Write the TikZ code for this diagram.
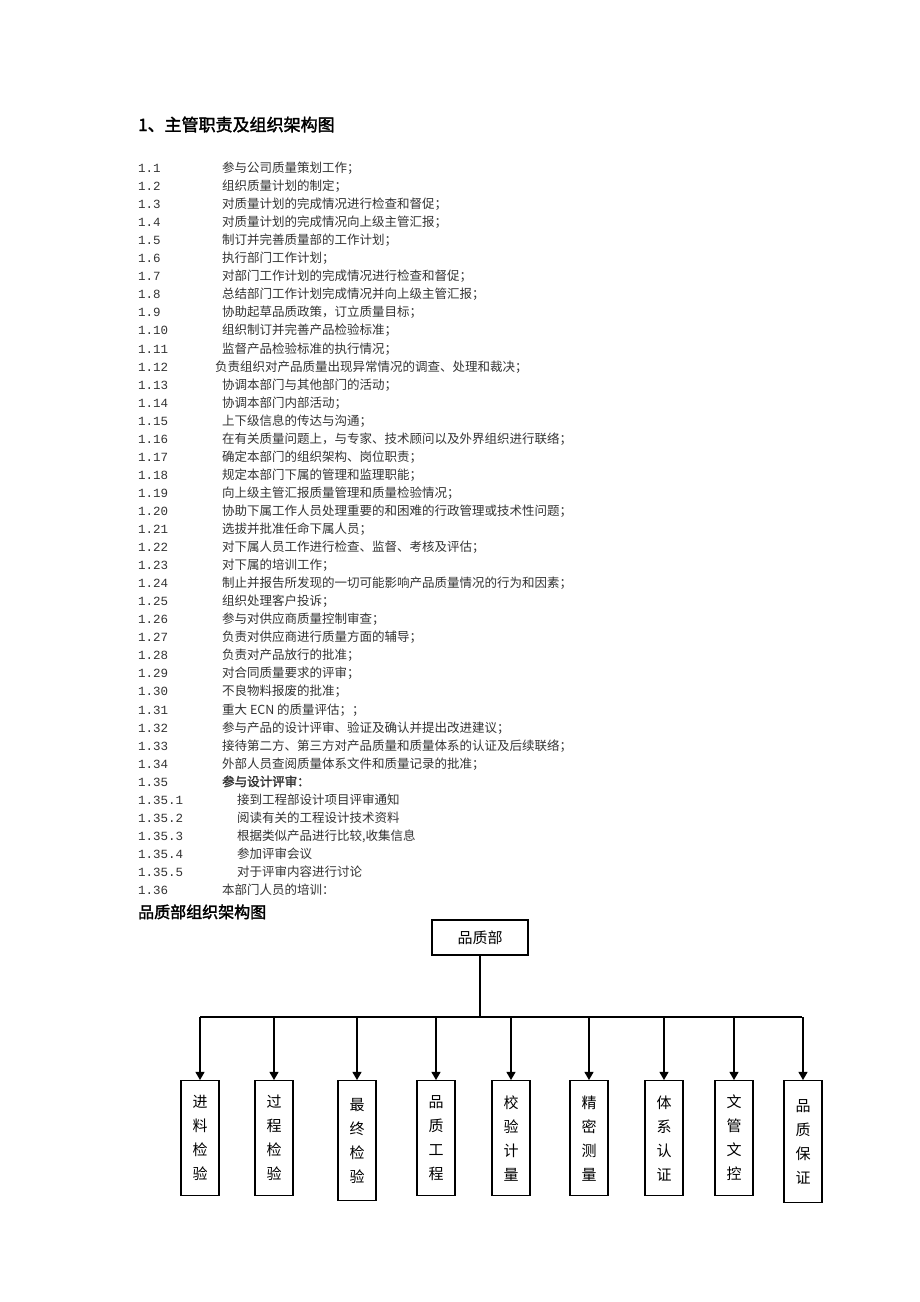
\documentclass[tikz,border=0pt]{standalone}
\usepackage{fontspec}
\setmainfont{Noto Sans CJK SC}[AutoFakeBold=2]
\newfontfamily\numfont{Liberation Mono}
\usetikzlibrary{positioning, arrows}
\tikzstyle{item}=[anchor=base west, inner sep=0pt, font=\fontsize{12.5}{12}\selectfont, text=black!80]
\tikzstyle{unit}=[draw, line width=1.2pt, minimum width=38pt, align=center, inner sep=0pt, font=\fontsize{15}{24}\selectfont]
\tikzset{>=triangle 60}

\begin{document}
\begin{tikzpicture}[x=1pt, y=-1pt]
\useasboundingbox (0,0) rectangle (920,1302);
% the title
\node[anchor=base west, inner sep=0pt, font=\fontsize{17}{17}\selectfont\bfseries] (title) at (138,131) {1、主管职责及组织架构图};
% the duties
\foreach \n/\t/\x [count=\i] in {1.1/{参与公司质量策划工作；}/222, 1.2/{组织质量计划的制定；}/222,
  1.3/{对质量计划的完成情况进行检查和督促；}/222, 1.4/{对质量计划的完成情况向上级主管汇报；}/222,
  1.5/{制订并完善质量部的工作计划；}/222, 1.6/{执行部门工作计划；}/222,
  1.7/{对部门工作计划的完成情况进行检查和督促；}/222, 1.8/{总结部门工作计划完成情况并向上级主管汇报；}/222,
  1.9/{协助起草品质政策，订立质量目标；}/222, 1.10/{组织制订并完善产品检验标准；}/222,
  1.11/{监督产品检验标准的执行情况；}/222, 1.12/{负责组织对产品质量出现异常情况的调查、处理和裁决；}/215,
  1.13/{协调本部门与其他部门的活动；}/222, 1.14/{协调本部门内部活动；}/222,
  1.15/{上下级信息的传达与沟通；}/222, 1.16/{在有关质量问题上，与专家、技术顾问以及外界组织进行联络；}/222,
  1.17/{确定本部门的组织架构、岗位职责；}/222, 1.18/{规定本部门下属的管理和监理职能；}/222,
  1.19/{向上级主管汇报质量管理和质量检验情况；}/222, 1.20/{协助下属工作人员处理重要的和困难的行政管理或技术性问题；}/222,
  1.21/{选拔并批准任命下属人员；}/222, 1.22/{对下属人员工作进行检查、监督、考核及评估；}/222,
  1.23/{对下属的培训工作；}/222, 1.24/{制止并报告所发现的一切可能影响产品质量情况的行为和因素；}/222,
  1.25/{组织处理客户投诉；}/222, 1.26/{参与对供应商质量控制审查；}/222,
  1.27/{负责对供应商进行质量方面的辅导；}/222, 1.28/{负责对产品放行的批准；}/222,
  1.29/{对合同质量要求的评审；}/222, 1.30/{不良物料报废的批准；}/222,
  1.31/{重大 ECN 的质量评估；；}/222, 1.32/{参与产品的设计评审、验证及确认并提出改进建议；}/222,
  1.33/{接待第二方、第三方对产品质量和质量体系的认证及后续联络；}/222, 1.34/{外部人员查阅质量体系文件和质量记录的批准；}/222,
  1.35/{\bfseries 参与设计评审：}/222, 1.35.1/{接到工程部设计项目评审通知}/237,
  1.35.2/{阅读有关的工程设计技术资料}/237, 1.35.3/{根据类似产品进行比较,收集信息}/237,
  1.35.4/{参加评审会议}/237, 1.35.5/{对于评审内容进行讨论}/237, 1.36/{本部门人员的培训：}/222}
{
  \node[item, font=\fontsize{12.5}{12}\numfont] (num\i) at (138, 172.5+18.05*\i-18.05) {\n};
  \node[item] (duty\i) at (\x, 172.5+18.05*\i-18.05) {\t};
}
% the chart
\node[anchor=base west, inner sep=0pt, font=\fontsize{16}{16}\selectfont\bfseries] (chart) at (138,918) {品质部组织架构图};
\node[draw, line width=1.2pt, minimum width=96pt, minimum height=35pt, font=\fontsize{15}{15}\selectfont] (head) at (480,937.5) {品质部};
\coordinate (bus) at (480,1017);
\draw[line width=1.5pt] (head.south) -- (bus);
\draw[line width=1.5pt] (200,1017) coordinate (busL) -- (802,1017) coordinate (busR);
\foreach \x/\t/\h [count=\i] in {200/{进\\料\\检\\验}/115, 274/{过\\程\\检\\验}/115, 357/{最\\终\\检\\验}/120,
  436/{品\\质\\工\\程}/115, 511/{校\\验\\计\\量}/115, 589/{精\\密\\测\\量}/115,
  664/{体\\系\\认\\证}/115, 734/{文\\管\\文\\控}/115, 803/{品\\质\\保\\证}/122}
{
  \node[unit, minimum height=\h pt, anchor=north] (unit\i) at (\x,1080) {\t};
  \coordinate (tap\i) at (\x,1017);
  \draw[line width=1.2pt, ->] (tap\i) -- (unit\i.north);
}
\end{tikzpicture}
\end{document}
